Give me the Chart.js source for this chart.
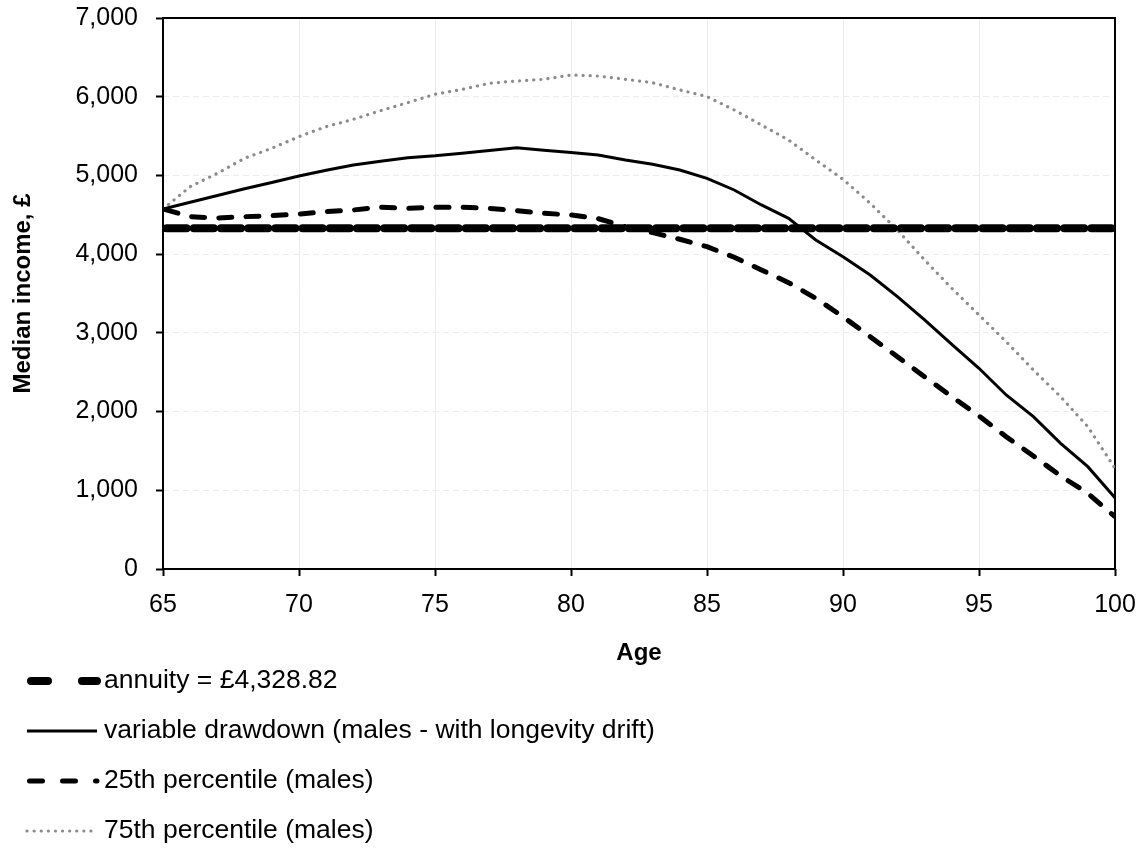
<!DOCTYPE html>
<html>
<head>
<meta charset="utf-8">
<script src="https://cdn.jsdelivr.net/npm/chart.js@4.4.1/dist/chart.umd.min.js"></script>
<style>
  html, body { margin: 0; padding: 0; background: #fff; }
  canvas { display: block; }
</style>
</head>
<body>
<canvas id="incomeChart" width="1142" height="850"></canvas>
<script>
// ages on the x axis
const ages = [65, 66, 67, 68, 69, 70, 71, 72, 73, 74, 75, 76, 77, 78, 79, 80, 81, 82,
              83, 84, 85, 86, 87, 88, 89, 90, 91, 92, 93, 94, 95, 96, 97, 98, 99, 100];

// annuity = £4,328.82 every year
const annuity = [4328.82, 4328.82, 4328.82, 4328.82, 4328.82, 4328.82, 4328.82, 4328.82, 4328.82,
                 4328.82, 4328.82, 4328.82, 4328.82, 4328.82, 4328.82, 4328.82, 4328.82, 4328.82,
                 4328.82, 4328.82, 4328.82, 4328.82, 4328.82, 4328.82, 4328.82, 4328.82, 4328.82,
                 4328.82, 4328.82, 4328.82, 4328.82, 4328.82, 4328.82, 4328.82, 4328.82, 4328.82];

const variableDrawdown = [4574, 4660, 4745, 4830, 4910, 4993, 5065, 5133, 5180, 5226, 5250, 5283,
                          5318, 5350, 5320, 5290, 5260, 5196, 5142, 5069, 4963, 4815, 4625, 4455,
                          4180, 3968, 3735, 3460, 3164, 2855, 2550, 2211, 1935, 1597, 1300, 906];

const pct25 = [4574, 4476, 4459, 4476, 4489, 4510, 4540, 4561, 4595, 4582, 4595, 4595,
               4582, 4553, 4519, 4498, 4451, 4349, 4273, 4189, 4095, 3960, 3799, 3638,
               3439, 3205, 2951, 2697, 2443, 2189, 1944, 1681, 1436, 1182, 962, 665];

const pct75 = [4574, 4858, 5027, 5218, 5345, 5493, 5620, 5713, 5823, 5925, 6031, 6094,
               6170, 6200, 6221, 6276, 6263, 6221, 6178, 6086, 6001, 5832, 5641, 5450,
               5196, 4951, 4646, 4307, 3926, 3566, 3227, 2888, 2528, 2189, 1808, 1279];

const seriesLabels = [
  'annuity = £4,328.82',
  'variable drawdown (males - with longevity drift)',
  '25th percentile (males)',
  '75th percentile (males)'
];

const FONT = "'Liberation Sans', Arial, sans-serif";
const toPoints = vals => ages.map((a, i) => ({ x: a, y: vals[i] }));

// box round the plot area
const frame = {
  id: 'frame',
  beforeDatasetsDraw(chart) {
    const { ctx, chartArea: a } = chart;
    ctx.save();
    ctx.strokeStyle = '#000';
    ctx.lineWidth = 2;
    ctx.strokeRect(a.left, a.top, a.right - a.left, a.bottom - a.top);
    ctx.restore();
  }
};

// legend as a list under the axis
const listLegend = {
  id: 'listLegend',
  afterDraw(chart) {
    const ctx = chart.ctx;
    chart.data.datasets.forEach((ds, i) => {
      const y = 681 + i * 50;
      ctx.save();
      ctx.strokeStyle = ds.borderColor;
      ctx.lineWidth = ds.borderWidth;
      ctx.lineCap = ds.borderCapStyle || 'butt';
      ctx.setLineDash(ds.legendDash || ds.borderDash || []);
      ctx.beginPath();
      ctx.moveTo(ds.legendStart || 27, y);
      ctx.lineTo(97, y);
      ctx.stroke();
      ctx.restore();
      ctx.save();
      ctx.fillStyle = '#000';
      ctx.font = '26.5px ' + FONT;
      ctx.textBaseline = 'middle';
      ctx.fillText(ds.label, 104, y);
      ctx.restore();
    });
  }
};

new Chart(document.getElementById('incomeChart'), {
  type: 'line',
  data: {
    datasets: [{
      label: seriesLabels[0],
      data: toPoints(annuity),
      borderColor: '#000',
      borderWidth: 8,
      borderDash: [20, 7.2],
      borderDashOffset: -3.6,
      borderCapStyle: 'round',
      legendDash: [17, 34],
      legendStart: 31
    }, {
      label: seriesLabels[1],
      data: toPoints(variableDrawdown),
      borderColor: '#000',
      borderWidth: 3
    }, {
      label: seriesLabels[2],
      data: toPoints(pct25),
      borderColor: '#000',
      borderWidth: 5,
      borderDash: [13, 14.2],
      borderDashOffset: -2.5,
      borderCapStyle: 'round',
      legendDash: [13, 20],
      legendStart: 29.5
    }, {
      label: seriesLabels[3],
      data: toPoints(pct75),
      borderColor: '#8c8c8c',
      borderWidth: 3.2,
      borderDash: [0.1, 7],
      borderCapStyle: 'round'
    }]
  },
  options: {
    responsive: false,
    animation: false,
    elements: {
      point: { radius: 0, hoverRadius: 0 },
      line: { tension: 0, fill: false }
    },
    layout: { padding: { top: 18, right: 27, left: 0, bottom: 181 } },
    plugins: {
      legend: { display: false },
      tooltip: { enabled: false }
    },
    scales: {
      x: {
        type: 'linear',
        min: 65,
        max: 100,
        afterFit: s => { s.height = 100; s.paddingLeft = 0; s.paddingRight = 0; },
        ticks: { stepSize: 5, color: '#000', font: { size: 25, family: FONT }, padding: 14 },
        grid: { color: '#ececec', lineWidth: 1, tickColor: '#000', tickWidth: 2, tickLength: 7 },
        border: { display: false },
        title: { display: true, text: 'Age', color: '#000', padding: { top: 4, bottom: 1 },
                 font: { size: 24, weight: 'bold', family: FONT } }
      },
      y: {
        min: 0,
        max: 7000,
        afterFit: s => { s.width = 163; s.paddingTop = 0; s.paddingBottom = 0; },
        ticks: { stepSize: 1000, color: '#000', font: { size: 25, family: FONT }, padding: 18,
                 callback: v => v.toLocaleString('en-US') },
        grid: { color: '#ececec', lineWidth: 1, tickColor: '#000', tickWidth: 2, tickLength: 7 },
        border: { display: false, dash: [6, 4] },
        title: { display: true, text: 'Median income, £', color: '#000', padding: { top: 9, bottom: 0 },
                 font: { size: 24, weight: 'bold', family: FONT } }
      }
    }
  },
  plugins: [frame, listLegend]
});
</script>
</body>
</html>
